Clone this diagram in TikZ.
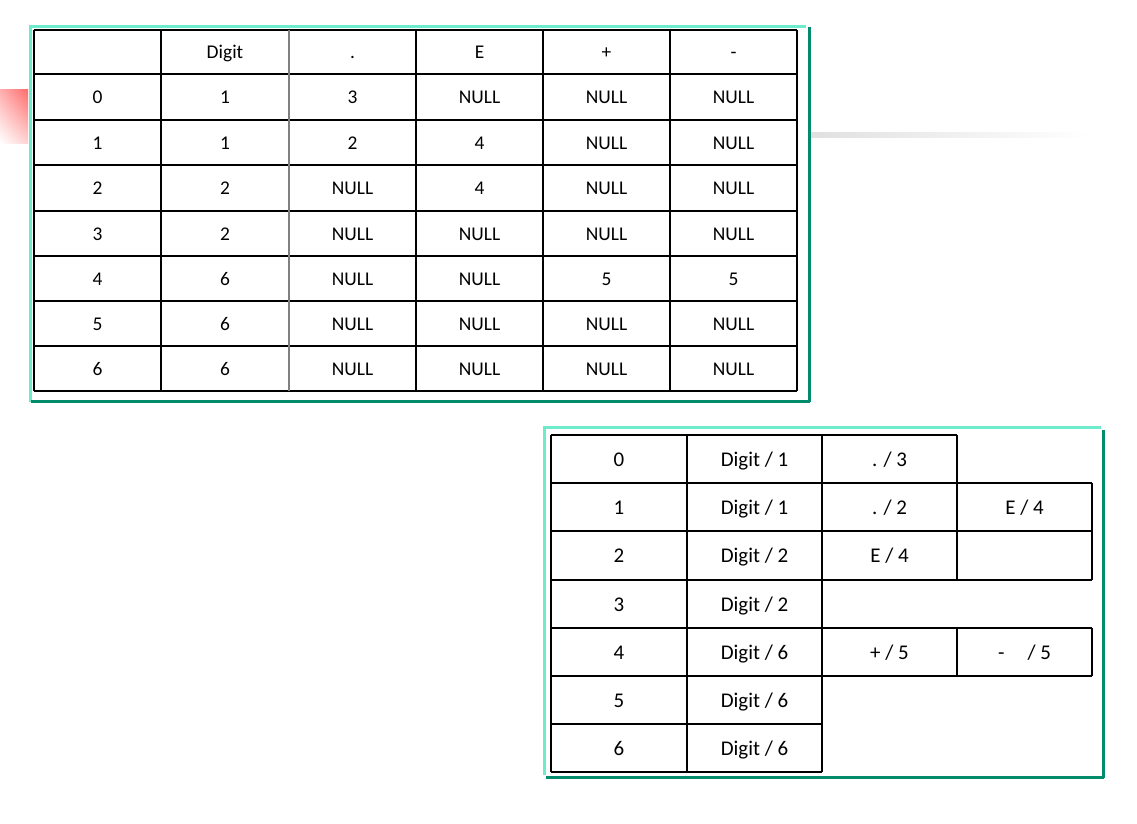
\documentclass[tikz,border=0pt]{standalone}
\usepackage{fontspec}
\setmainfont{Carlito}
\usetikzlibrary{shadings}
\definecolor{tealL}{HTML}{6EEBCB}
\definecolor{greenD}{HTML}{008C6C}
\definecolor{redG}{HTML}{FF6B6B}
\begin{document}
\begin{tikzpicture}[x=1bp,y=-1bp,
  gridline/.style={line width=1.3bp, black},
  softline/.style={line width=1.1bp, black!50},
  tcell/.style={font=\fontsize{19.5}{22}\selectfont, inner sep=0pt, anchor=base},
  bcell/.style={font=\fontsize{21}{24}\selectfont, inner sep=0pt, anchor=base},
  lightframe/.style={line width=3bp, tealL},
  darkframe/.style={line width=3bp, greenD}]
\useasboundingbox (0,0) rectangle (1137,824);
% decorations
\shade[upper right=redG, upper left=redG!55, lower left=white, lower right=redG!30] (0,89) rectangle (28,143);
\shade[left color=black!12, right color=white] (810,132) rectangle (1090,137);

% ---------- top table frame ----------
\draw[lightframe] (29,26) -- (806,26);
\draw[lightframe] (30,26) -- (30,402);
\draw[darkframe] (809,27) -- (809,402);
\draw[darkframe] (31,401) -- (810,401);

% ---------- top table grid ----------
\foreach \yy in {30,74,120,165,211,256,301,346,391}
  \draw[gridline] (34,\yy) -- (797,\yy);
\foreach \xx in {34,161,416,543,670,797}
  \draw[gridline] (\xx,30) -- (\xx,391);
\draw[softline] (289,30) -- (289,391);

% ---------- top table text ----------
\foreach \a/\b/\c/\d/\e/\f/\y [count=\i from 0] in {
  {}/Digit/./E/+/-/52,
  0/1/3/NULL/NULL/NULL/97,
  1/1/2/4/NULL/NULL/142.5,
  2/2/NULL/4/NULL/NULL/188,
  3/2/NULL/NULL/NULL/NULL/233.5,
  4/6/NULL/NULL/5/5/278.5,
  5/6/NULL/NULL/NULL/NULL/323.5,
  6/6/NULL/NULL/NULL/NULL/368.5}{
  \node[tcell] (t\i-0) at (97.5,\y+6.5) {\a};
  \node[tcell] (t\i-1) at (225,\y+6.5) {\b};
  \node[tcell] (t\i-2) at (352.5,\y+6.5) {\c};
  \node[tcell] (t\i-3) at (479.5,\y+6.5) {\d};
  \node[tcell] (t\i-4) at (606.5,\y+6.5) {\e};
  \node[tcell] (t\i-5) at (733.5,\y+6.5) {\f};
}

% ---------- bottom table frame ----------
\draw[lightframe] (543,427) -- (1101,427);
\draw[lightframe] (544,427) -- (544,775);
\draw[darkframe] (1103,430) -- (1103,778);
\draw[darkframe] (546,777) -- (1104,777);

% ---------- bottom table grid ----------
\draw[gridline] (551,435) -- (957,435);
\foreach \yy in {483,531,580,628,676}
  \draw[gridline] (551,\yy) -- (1092,\yy);
\draw[gridline] (551,724) -- (822,724);
\draw[gridline] (551,772) -- (822,772);
\foreach \xx in {551,687,822}
  \draw[gridline] (\xx,435) -- (\xx,772);
\draw[gridline] (957,435) -- (957,580);
\draw[gridline] (957,628) -- (957,676);
\draw[gridline] (1092,483) -- (1092,580);
\draw[gridline] (1092,628) -- (1092,676);

% ---------- bottom table text ----------
\node[bcell] (b0-0) at (619,466) {0};
\node[bcell] (b0-1) at (754.5,466) {Digit / 1};
\node[bcell] (b0-2) at (889.5,466) {. / 3};
\node[bcell] (b1-0) at (619,514) {1};
\node[bcell] (b1-1) at (754.5,514) {Digit / 1};
\node[bcell] (b1-2) at (889.5,514) {. / 2};
\node[bcell] (b1-3) at (1024.5,514) {E / 4};
\node[bcell] (b2-0) at (619,562.5) {2};
\node[bcell] (b2-1) at (754.5,562.5) {Digit / 2};
\node[bcell] (b2-2) at (889.5,562.5) {E / 4};
\node[bcell] (b3-0) at (619,611) {3};
\node[bcell] (b3-1) at (754.5,611) {Digit / 2};
\node[bcell] (b4-0) at (619,659) {4};
\node[bcell] (b4-1) at (754.5,659) {Digit / 6};
\node[bcell] (b4-2) at (889.5,659) {+ / 5};
\node[bcell] (b4-3) at (1024.5,659) {-\hspace{1.1em}/ 5};
\node[bcell] (b5-0) at (619,707) {5};
\node[bcell] (b5-1) at (754.5,707) {Digit / 6};
\node[bcell] (b6-0) at (619,755) {6};
\node[bcell] (b6-1) at (754.5,755) {Digit / 6};
\end{tikzpicture}
\end{document}
